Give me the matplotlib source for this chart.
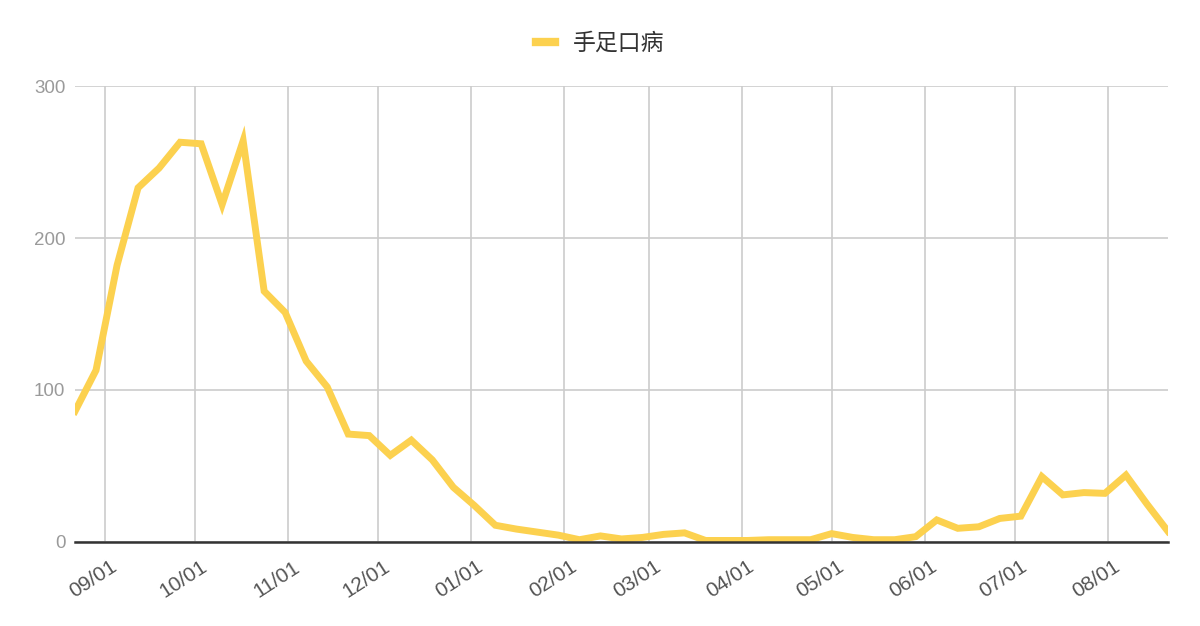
import pandas as pd
import matplotlib
matplotlib.use('Agg')
import matplotlib.pyplot as plt
import matplotlib.dates as mdates
import matplotlib.transforms as mtransforms

plt.rcParams['font.family'] = ['Liberation Sans', 'Noto Sans CJK SC', 'DejaVu Sans']

# weekly case counts
start_date = '2022-08-22'
series_name = '手足口病'
cases = [86, 113, 182, 233, 246, 263, 262, 222, 264, 165,
         151, 119, 102, 71, 70, 57, 67, 54, 36, 24,
         11, 8.5, 6.5, 4.5, 1.5, 4, 2, 3, 5, 6,
         1, 1, 1, 1.5, 1.5, 1.5, 5.5, 3, 1.5, 1.5,
         3.5, 14.5, 9, 10, 15.5, 17, 43, 31, 32.5, 32,
         44, 25, 7]
y_ticks = [0, 100, 200, 300]

dates = pd.date_range(start=start_date, periods=len(cases), freq='7D')

fig = plt.figure(figsize=(12, 6.26), dpi=100)
ax = fig.add_axes([0.0625, 0.1342, 0.9108, 0.7284])

ax.plot(dates, cases, color='#fcd14f', linewidth=5, solid_joinstyle='miter',
        label=series_name, zorder=3)

ax.set_xlim(dates[0], dates[-1])
ax.set_ylim(0, 300)
ax.set_yticks(y_ticks)

ax.xaxis.set_major_locator(mdates.MonthLocator(bymonthday=1))
ax.xaxis.set_major_formatter(mdates.DateFormatter('%m/%d'))
ax.grid(True, color='#cccccc', linewidth=1.2, zorder=0)
ax.axhline(0, color='#333333', linewidth=1.8, zorder=4, clip_on=False)

for s in ax.spines.values():
    s.set_visible(False)
ax.tick_params(axis='both', length=0)
ax.tick_params(axis='y', labelsize=13.5, labelcolor='#9a9a9a', pad=7)
ax.tick_params(axis='x', labelsize=15, labelcolor='#555555', pad=11)
shift = mtransforms.ScaledTranslation(5 / 100, 0, fig.dpi_scale_trans)
for lbl in ax.get_xticklabels():
    lbl.set_rotation(33)
    lbl.set_ha('right')
    lbl.set_rotation_mode('anchor')
    lbl.set_transform(lbl.get_transform() + shift)

leg = fig.legend(loc='upper center', bbox_to_anchor=(0.5, 0.982), frameon=False,
                 handlelength=0.85, handletextpad=0.75,
                 prop={'family': ['Noto Sans CJK SC', 'DejaVu Sans'], 'size': 16.5})
for t in leg.get_texts():
    t.set_color('#333333')
for h in leg.get_lines():
    h.set_linewidth(6)

fig.savefig('out.png', dpi=100)
